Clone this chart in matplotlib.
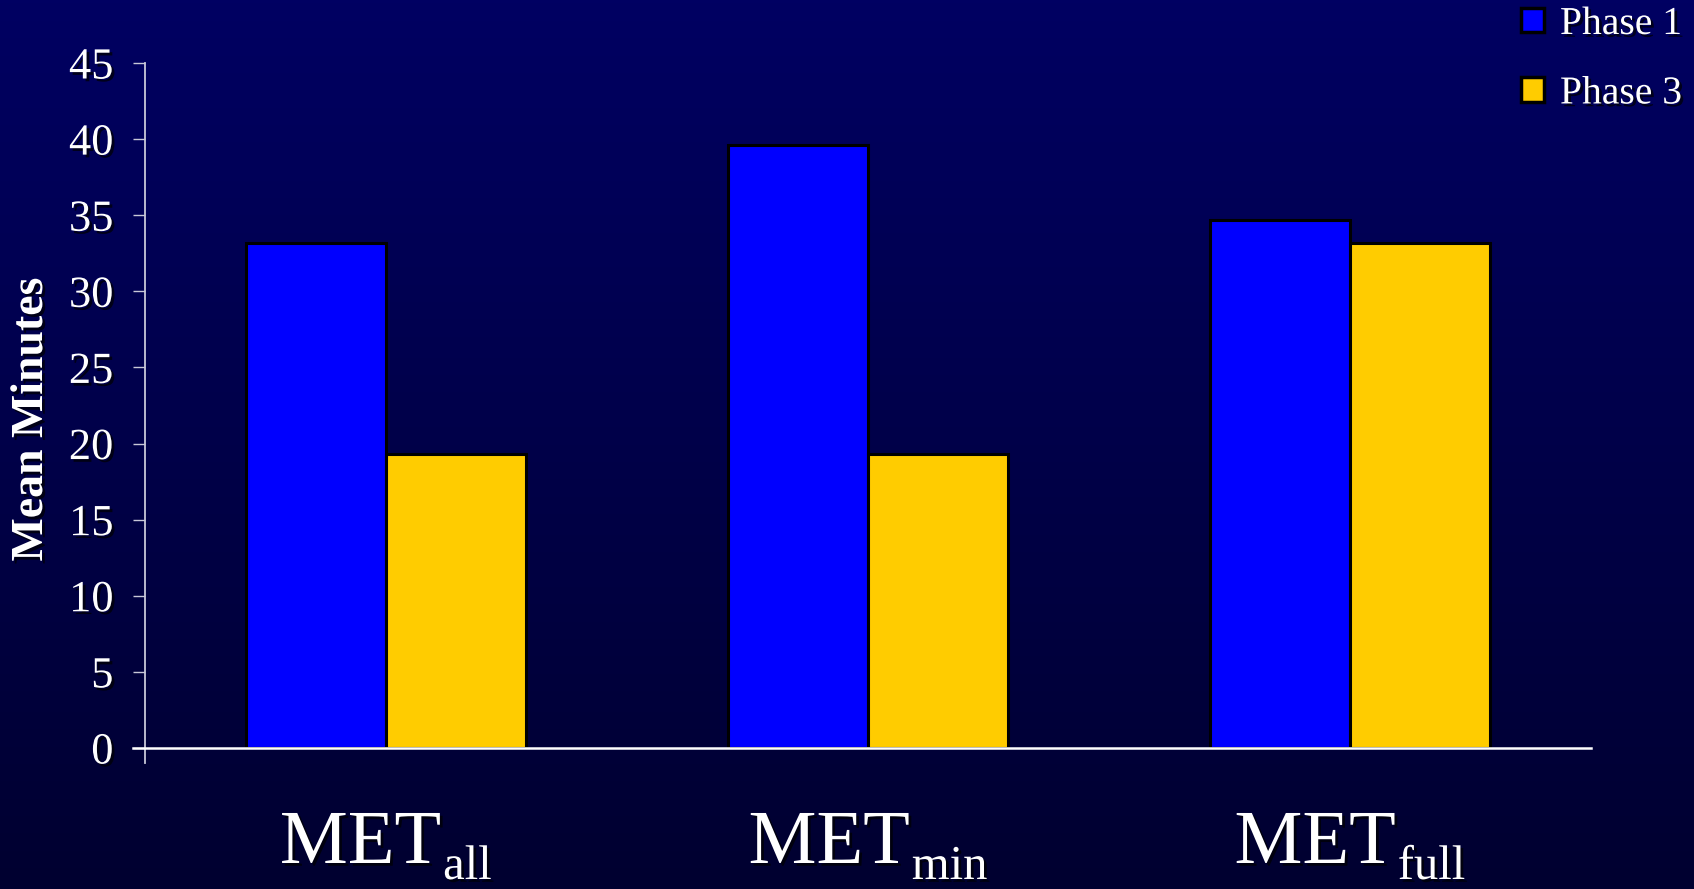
import numpy as np
import matplotlib
matplotlib.use("Agg")
import matplotlib.pyplot as plt
import matplotlib.patheffects as pe
from matplotlib.colors import LinearSegmentedColormap
from matplotlib.transforms import offset_copy

# Data
cat_main = ["MET", "MET", "MET"]
cat_sub = ["all", "min", "full"]
series_names = ["Phase 1", "Phase 3"]
phase1 = [33.2, 39.6, 34.7]
phase3 = [19.3, 19.3, 33.2]
yticks = [0, 5, 10, 15, 20, 25, 30, 35, 40, 45]

plt.rcParams["font.family"] = ["Liberation Serif", "DejaVu Serif"]

W, H = 1694, 889
fig = plt.figure(figsize=(W / 100, H / 100), dpi=100)

# Gradient background
bg = fig.add_axes([0, 0, 1, 1], zorder=-10)
cmap = LinearSegmentedColormap.from_list("bg", ["#000030", "#000062"])
grad = np.linspace(0, 1, 256).reshape(-1, 1)
bg.imshow(grad, aspect="auto", cmap=cmap, origin="lower", extent=[0, 1, 0, 1])
bg.set_axis_off()

shadow = [pe.SimplePatchShadow(offset=(2, -2), shadow_rgbFace="black", alpha=0.7), pe.Normal()]

# Main axes placed in pixel terms
x0, x1 = 145, 1591
y_top, y_base = 63, 748
ax = fig.add_axes([x0 / W, (H - y_base) / H, (x1 - x0) / W, (y_base - y_top) / H])
ax.set_facecolor("none")

x = np.arange(len(cat_main))
w = 0.29
ax.bar(x - w / 2, phase1, w, color="#0000FF", edgecolor="black", linewidth=2.2,
       label=series_names[0], zorder=3)
ax.bar(x + w / 2, phase3, w, color="#FFCC00", edgecolor="black", linewidth=2.2,
       label=series_names[1], zorder=3)

ax.set_xlim(-0.5, 2.5)
ax.set_ylim(0, 45)
ax.set_yticks(yticks)
ax.set_yticklabels([str(t) for t in yticks])

for s in ["top", "right", "bottom", "left"]:
    ax.spines[s].set_visible(False)

axis_col = "#C8C8D8"
# Value axis line, running slightly below the baseline
ax.axvline(-0.5, ymin=-15 / (y_base - y_top), ymax=1, color=axis_col, lw=1.3,
           clip_on=False, zorder=4)
# Category baseline, running slightly left of the value axis
ax.axhline(0, xmin=-12 / (x1 - x0), xmax=1, color="white", lw=1.8,
           clip_on=False, zorder=4)

ax.tick_params(axis="y", direction="out", length=8.6, width=1.0, color=axis_col,
               labelsize=32, labelcolor="white", pad=14)
ax.tick_params(axis="x", length=0, labelbottom=False)
for lbl in ax.get_yticklabels():
    lbl.set_path_effects(shadow)

# Category labels: main text plus a lowered subscript, centred as a pair
label_y = -(863 - y_base) / (y_base - y_top)
base_tr = ax.get_xaxis_transform()
pairs = []
for xi, m, s in zip(x, cat_main, cat_sub):
    tm = ax.text(xi, label_y, m, transform=base_tr, ha="left", va="baseline",
                 fontsize=55, color="white", path_effects=shadow)
    ts = ax.text(xi, label_y, s, transform=base_tr, ha="left", va="baseline",
                 fontsize=35, color="white", path_effects=shadow)
    pairs.append((tm, ts))

renderer = fig.canvas.get_renderer()
for tm, ts in pairs:
    wm = tm.get_window_extent(renderer).width
    ws = ts.get_window_extent(renderer).width
    total = wm + 2 + ws
    tm.set_transform(offset_copy(base_tr, fig, x=-total / 2, y=0, units="dots"))
    ts.set_transform(offset_copy(base_tr, fig, x=-total / 2 + wm + 2, y=-16, units="dots"))

fig.text(31 / W, 1 - 419 / H, "Mean Minutes", rotation=90, ha="center", va="center",
         fontsize=33, fontweight="bold", color="white", path_effects=shadow)

leg = ax.legend(loc="upper right", bbox_to_anchor=(1682 / W, 1 - 6 / H),
                bbox_transform=fig.transFigure, frameon=False, fontsize=28.5,
                handlelength=0.58, handleheight=0.58, handletextpad=0.4,
                labelspacing=0.82, borderpad=0, borderaxespad=0)
for t in leg.get_texts():
    t.set_color("white")
    t.set_path_effects(shadow)
for h in leg.legend_handles:
    h.set_linewidth(2.5)

fig.savefig("out.png", dpi=100)
